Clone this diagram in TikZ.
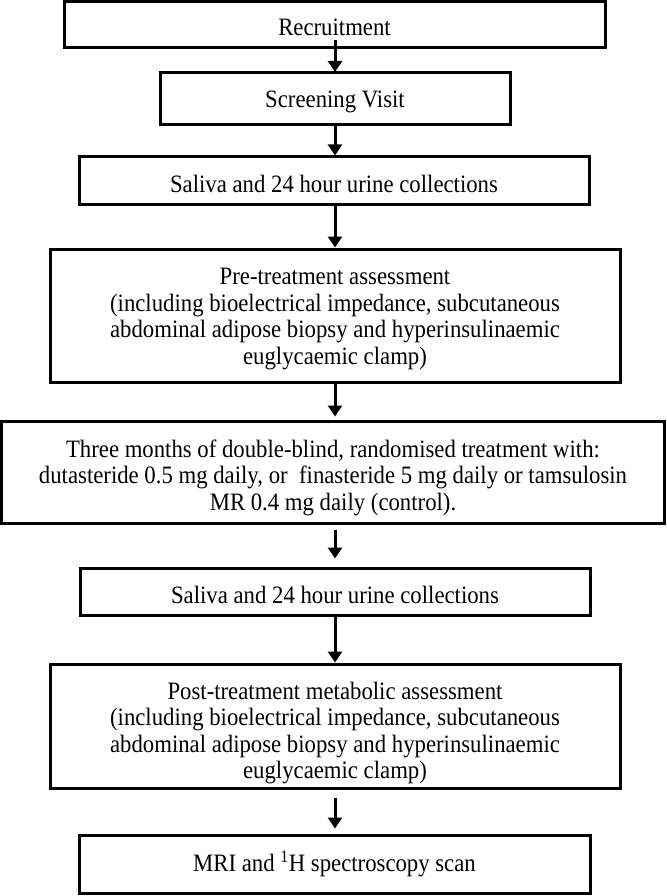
\documentclass[tikz,border=0pt]{standalone}
\usepackage{fontspec}
\setmainfont[FakeStretch=0.91]{Liberation Serif}
\usetikzlibrary{arrows.meta}
\tikzset{
  box/.style={draw=black, line width=3pt, inner sep=0pt},
  txt/.style={inner sep=0pt, align=center, text=black,
    font=\fontsize{25}{26.5}\selectfont},
  flow/.style={draw=black, line width=3pt, -{Triangle[length=11pt,width=14pt]}}
}
\begin{document}
\begin{tikzpicture}[x=1pt,y=-1pt]
\useasboundingbox (0,0) rectangle (666,896);
\node[box, minimum width=541pt, minimum height=46pt,
  label={[txt, yshift=-2.7pt]center:Recruitment}] (b1) at (334.5,25) {};
\node[box, minimum width=350pt, minimum height=52pt,
  label={[txt, yshift=-3.2pt]center:Screening Visit}] (b2) at (335,99) {};
\node[box, minimum width=510pt, minimum height=47pt,
  label={[txt, yshift=-3pt]center:Saliva and 24 hour urine collections}] (b3) at (334,180.5) {};
\node[box, minimum width=570pt, minimum height=133pt,
  label={[txt, yshift=-3.7pt]center:{Pre-treatment assessment\\(including bioelectrical impedance, subcutaneous\\abdominal adipose biopsy and hyperinsulinaemic\\euglycaemic clamp)}}] (b4) at (335,315.5) {};
\node[box, minimum width=663pt, minimum height=102pt,
  label={[txt, yshift=-5.7pt]center:{Three months of double-blind, randomised treatment with:\\dutasteride 0.5 mg daily, or~ finasteride 5 mg daily or tamsulosin\\MR 0.4 mg daily (control).}}] (b5) at (333,472) {};
\node[box, minimum width=510pt, minimum height=47pt,
  label={[txt, yshift=-3pt]center:Saliva and 24 hour urine collections}] (b6) at (335,591.5) {};
\node[box, minimum width=570pt, minimum height=124pt,
  label={[txt, yshift=-7pt]center:{Post-treatment metabolic assessment\\(including bioelectrical impedance, subcutaneous\\abdominal adipose biopsy and hyperinsulinaemic\\euglycaemic clamp)}}] (b7) at (335,726) {};
\node[box, minimum width=511pt, minimum height=58pt,
  label={[txt, yshift=0pt]center:MRI and \textsuperscript{1}H spectroscopy scan}] (b8) at (334.5,864) {};
\draw[flow] ([xshift=0.5pt,yshift=9pt]b1.south) -- ([yshift=-0.5pt]b2.north -| 335,0);
\draw[flow] (b2.south -| 335,0) -- (b3.north -| 335,0);
\draw[flow] (b3.south -| 335,0) -- (b4.north -| 335,0);
\draw[flow] (b4.south -| 335,0) -- ([yshift=3pt]b5.north -| 335,0);
\draw[flow] ([yshift=-5pt]b5.south -| 335,0) -- ([yshift=8pt]b6.north -| 335,0);
\draw[flow] (b6.south -| 335,0) -- (b7.north -| 335,0);
\draw[flow] ([yshift=-8pt]b7.south -| 335,0) -- ([yshift=5pt]b8.north -| 335,0);
\end{tikzpicture}
\end{document}
